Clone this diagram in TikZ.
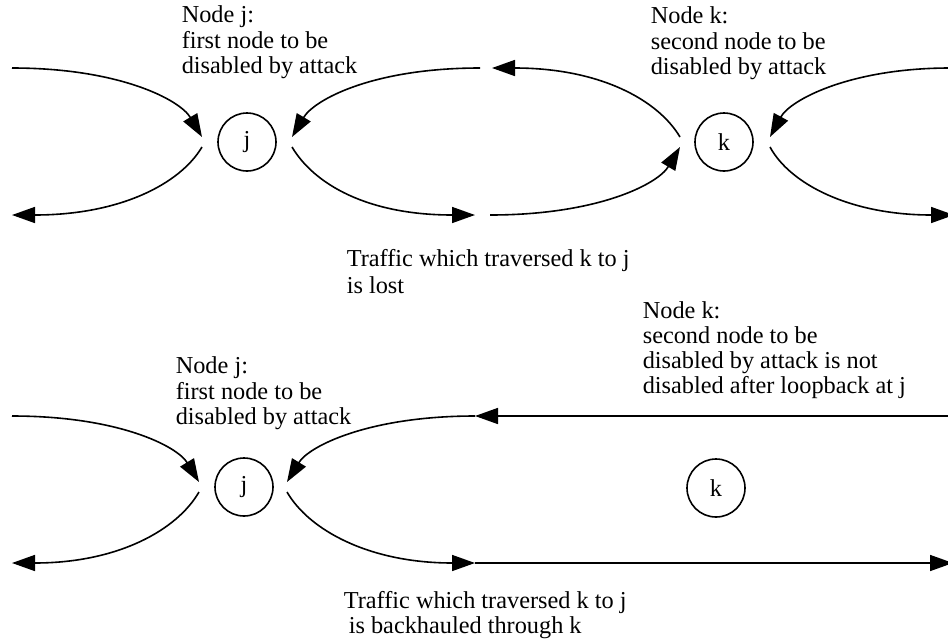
\documentclass[tikz,border=0pt]{standalone}
\usepackage{fontspec}
\setmainfont{Liberation Serif}
\usetikzlibrary{arrows.meta}
\begin{document}
\begin{tikzpicture}[x=1pt,y=-1pt,
  line width=1.6pt,
  arr/.style={-{Triangle[length=23pt,width=16pt]}},
  ringnode/.style={circle,draw,minimum size=58pt,inner sep=0pt,font=\fontsize{24.3}{25}\selectfont},
  label/.style={anchor=north west,inner sep=0pt,align=left,font=\fontsize{24.3}{25.5}\selectfont}]
\useasboundingbox (0,0) rectangle (948,638);
% ---------- top panel ----------
\node[ringnode] (j) at (247,142) {j};
\node[ringnode] (k) at (724,142) {k};
\coordinate (L1) at (12,68);   \coordinate (jA) at (202,137);
\coordinate (jB) at (202,147); \coordinate (L2) at (12,215);
\coordinate (jC) at (292,137); \coordinate (jD) at (292,147);
\coordinate (M1) at (480,68);  \coordinate (M2) at (475,215);
\coordinate (N1) at (492,68);  \coordinate (kA) at (680,137);
\coordinate (N2) at (490,215); \coordinate (kB) at (680,147);
\coordinate (kC) at (770,137); \coordinate (kD) at (770,147);
\coordinate (R1) at (950,68);  \coordinate (R2) at (954,215);
\draw[arr] (L1) .. controls +(108,0) and +(-22,-37) .. (jA);
\draw[arr] (jB) .. controls +(-22,37) and +(108,0) .. (L2);
\draw[arr] (M1) .. controls +(-108,0) and +(22,-37) .. (jC);
\draw[arr] (jD) .. controls +(22,37) and +(-108,0) .. (M2);
\draw[arr] (kA) .. controls +(-22,-37) and +(108,0) .. (N1);
\draw[arr] (N2) .. controls +(108,0) and +(-22,37) .. (kB);
\draw[arr] (R1) .. controls +(-100,0) and +(20,-37) .. (kC);
\draw[arr] (kD) .. controls +(20,37) and +(-104,0) .. (R2);
\node[label] (tj) at (181,5) {Node j:\\first node to be\\disabled by attack};
\node[label] (tk) at (650,6) {Node k:\\second node to be\\disabled by attack};
\node[label,font=\fontsize{24.3}{26.5}\selectfont] (tlost) at (346,249) {Traffic which traversed k to j\\is lost};
% ---------- bottom panel ----------
\node[ringnode] (bj) at (244,487) {j};
\node[ringnode] (bk) at (716,488) {k};
\coordinate (BL1) at (12,416);  \coordinate (bjA) at (199,482);
\coordinate (bjB) at (199,492); \coordinate (BL2) at (12,563);
\coordinate (bjC) at (287,482); \coordinate (bjD) at (287,492);
\coordinate (BM1) at (475,416); \coordinate (BM2) at (475,563);
\coordinate (BR1) at (950,416); \coordinate (BR2) at (953,563);
\draw[arr] (BL1) .. controls +(106,0) and +(-22,-36) .. (bjA);
\draw[arr] (bjB) .. controls +(-22,38) and +(106,0) .. (BL2);
\draw[arr] (BM1) .. controls +(-106,0) and +(22,-36) .. (bjC);
\draw[arr] (bjD) .. controls +(22,38) and +(-106,0) .. (BM2);
\draw[arr] (BR1) -- (BM1);
\draw[arr] (BM2) -- (BR2);
\node[label,font=\fontsize{24.3}{24.7}\selectfont] (btk) at (642,301.3) {Node k:\\second node to be\\disabled by attack is not\\disabled after loopback at j};
\node[label] (btj) at (175,356.3) {Node j:\\first node to be\\disabled by attack};
\node[label,font=\fontsize{24.3}{25}\selectfont] (bback) at (343,590.3) {Traffic which traversed k to j\\\hspace{5pt}is backhauled through k};
\end{tikzpicture}
\end{document}
